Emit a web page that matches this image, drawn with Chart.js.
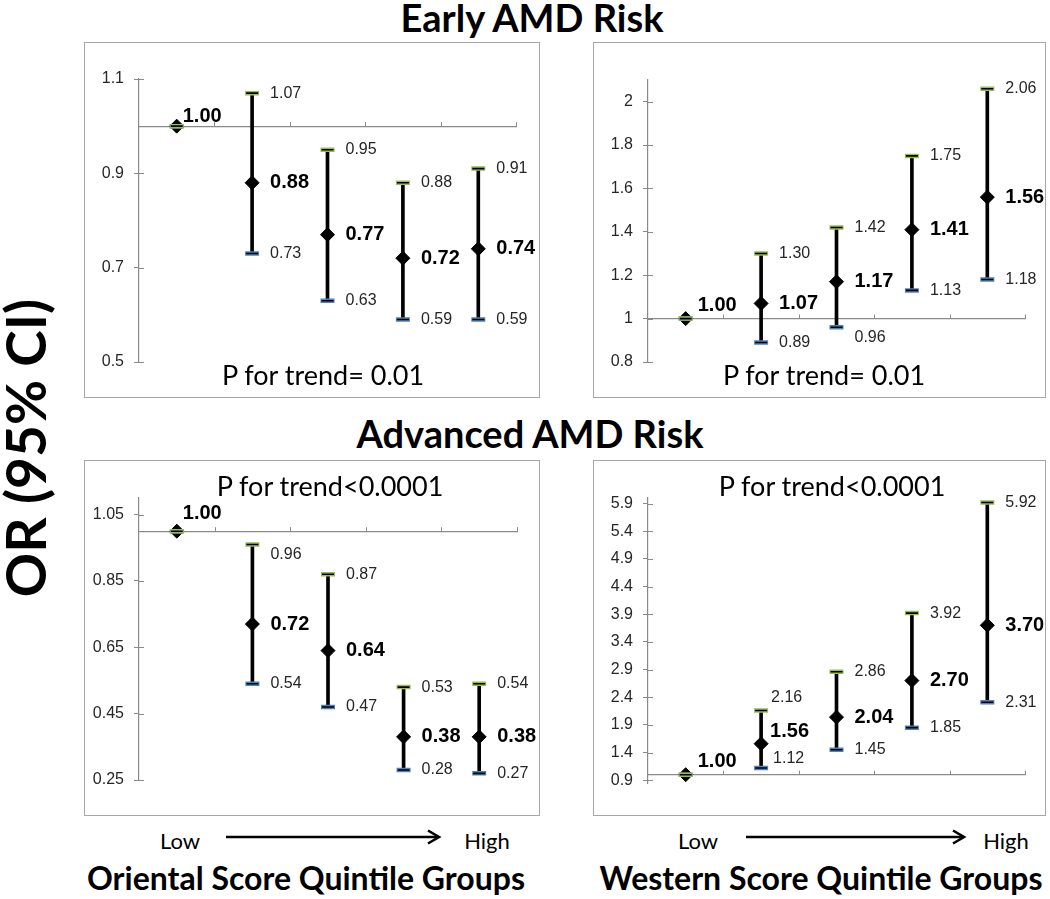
<!DOCTYPE html>
<html>
<head>
<meta charset="utf-8">
<title>AMD risk by dietary pattern score</title>
<script src="https://cdn.jsdelivr.net/npm/chart.js@4.4.1/dist/chart.umd.min.js"></script>
<style>
    html, body { margin: 0; padding: 0; background: #fff; }
    body { width: 1050px; height: 899px; position: relative; overflow: hidden; font-family: Lato, 'Liberation Sans', sans-serif; color: #000; }
    .txt { position: absolute; white-space: nowrap; line-height: 1; transform: translate(-50%, -50%); }
    .title { font-weight: 700; font-size: 38px; }
    .ptrend { font-size: 27px; }
    .lowhigh { font-size: 22px; }
    .group { font-weight: 700; font-size: 32px; }
    .box { position: absolute; border: 1.5px solid #a6a6a6; box-sizing: border-box; }
    canvas { position: absolute; }
</style>
</head>
<body>

<div class="txt title" style="left:532px; top:17px;">Early AMD Risk</div>
<div class="txt title" style="left:530px; top:433px;">Advanced AMD Risk</div>
<div class="txt title" style="left:25px; top:448px; font-size:55px; transform:translate(-50%,-50%) rotate(-90deg);">OR (95% CI)</div>

<div class="box" style="left:84px; top:42px; width:456px; height:356px;"></div>
<div class="box" style="left:593px; top:42px; width:453px; height:356px;"></div>
<div class="box" style="left:84px; top:460px; width:456px; height:356px;"></div>
<div class="box" style="left:593px; top:460px; width:453px; height:356px;"></div>

<canvas id="c1" width="456" height="356" style="left:84px; top:42px;"></canvas>
<canvas id="c2" width="453" height="356" style="left:593px; top:42px;"></canvas>
<canvas id="c3" width="456" height="356" style="left:84px; top:460px;"></canvas>
<canvas id="c4" width="453" height="356" style="left:593px; top:460px;"></canvas>

<div class="txt ptrend" style="left:323px; top:374px;">P for trend= 0.01</div>
<div class="txt ptrend" style="left:824px; top:374px;">P for trend= 0.01</div>
<div class="txt ptrend" style="left:330px; top:485px;">P for trend&lt;0.0001</div>
<div class="txt ptrend" style="left:832px; top:485px;">P for trend&lt;0.0001</div>

<div class="txt lowhigh" style="left:180px; top:841px;">Low</div>
<svg style="position:absolute; left:226px; top:829px;" width="216" height="16">
    <line x1="0" y1="8" x2="212" y2="8" stroke="#000" stroke-width="2.6"/>
    <polyline points="202,1.5 213,8 202,14.5" fill="none" stroke="#000" stroke-width="2.6"/>
</svg>
<div class="txt lowhigh" style="left:487px; top:841px;">High</div>
<div class="txt lowhigh" style="left:698px; top:841px;">Low</div>
<svg style="position:absolute; left:746px; top:829px;" width="221" height="16">
    <line x1="0" y1="8" x2="217" y2="8" stroke="#000" stroke-width="2.6"/>
    <polyline points="207,1.5 218,8 207,14.5" fill="none" stroke="#000" stroke-width="2.6"/>
</svg>
<div class="txt lowhigh" style="left:1006px; top:841px;">High</div>

<div class="txt group" style="left:306px; top:878px;">Oriental Score Quintile Groups</div>
<div class="txt group" style="left:821px; top:878px;">Western Score Quintile Groups</div>

<script>
// Quintile groups (low -> high score)
const categories = ['Q1', 'Q2', 'Q3', 'Q4', 'Q5'];

// Early AMD, Oriental score
const earlyOrientalOR = [1.00, 0.88, 0.77, 0.72, 0.74];
const earlyOrientalLower = [1.00, 0.73, 0.63, 0.59, 0.59];
const earlyOrientalUpper = [1.00, 1.07, 0.95, 0.88, 0.91];
const earlyOrientalTicks = [0.5, 0.7, 0.9, 1.1];

// Early AMD, Western score
const earlyWesternOR = [1.00, 1.07, 1.17, 1.41, 1.56];
const earlyWesternLower = [1.00, 0.89, 0.96, 1.13, 1.18];
const earlyWesternUpper = [1.00, 1.30, 1.42, 1.75, 2.06];
const earlyWesternTicks = [0.8, 1, 1.2, 1.4, 1.6, 1.8, 2];

// Advanced AMD, Oriental score
const advOrientalOR = [1.00, 0.72, 0.64, 0.38, 0.38];
const advOrientalLower = [1.00, 0.54, 0.47, 0.28, 0.27];
const advOrientalUpper = [1.00, 0.96, 0.87, 0.53, 0.54];
const advOrientalTicks = [0.25, 0.45, 0.65, 0.85, 1.05];

// Advanced AMD, Western score
const advWesternOR = [1.00, 1.56, 2.04, 2.70, 3.70];
const advWesternLower = [1.00, 1.12, 1.45, 1.85, 2.31];
const advWesternUpper = [1.00, 2.16, 2.86, 3.92, 5.92];
const advWesternTicks = [0.9, 1.4, 1.9, 2.4, 2.9, 3.4, 3.9, 4.4, 4.9, 5.4, 5.9];

const axisColor = '#8a8a8a';
const upperCapColor = '#9bbb59';
const lowerCapColor = '#4f81bd';

// per panel layout; nudge = label offset [dx, dy] where the default (18, 0) doesn't fit
const panels = [
    { id: 'c1', or: earlyOrientalOR, lo: earlyOrientalLower, hi: earlyOrientalUpper, ticks: earlyOrientalTicks,
      min: 0.5, max: 1.1, pad: { top: 37, right: 24, bottom: 36, left: 0 },
      nudge: { mean: { 0: [6, -10] } } },
    { id: 'c2', or: earlyWesternOR, lo: earlyWesternLower, hi: earlyWesternUpper, ticks: earlyWesternTicks,
      min: 0.8, max: 2.1, pad: { top: 38, right: 21, bottom: 36, left: 0 },
      nudge: { mean: { 0: [12, -13] }, lo: { 2: [18, 10] } } },
    { id: 'c3', or: advOrientalOR, lo: advOrientalLower, hi: advOrientalUpper, ticks: advOrientalTicks,
      min: 0.25, max: 1.1, pad: { top: 38, right: 23, bottom: 36, left: 0 },
      nudge: { mean: { 0: [6, -18] }, hi: { 1: [18, 10] } } },
    { id: 'c4', or: advWesternOR, lo: advWesternLower, hi: advWesternUpper, ticks: advWesternTicks,
      min: 0.85, max: 6.0, pad: { top: 38, right: 21, bottom: 33, left: 0 },
      nudge: { mean: { 0: [12, -13], 1: [9, -12] }, hi: { 1: [10, -13] }, lo: { 1: [12, -9] } } }
];

// writes OR / CI values next to each marker
const makeLabelPlugin = (p) => ({
    id: 'valueLabels',
    afterDatasetsDraw(chart) {
        const ctx = chart.ctx;
        const xs = chart.scales.x;
        const ys = chart.scales.y;
        ctx.save();
        ctx.textAlign = 'left';
        ctx.textBaseline = 'middle';
        categories.forEach((c, i) => {
            const x = xs.getPixelForValue(i);
            const put = (kind, val, bold) => {
                const n = (p.nudge[kind] && p.nudge[kind][i]) || [18, 0];
                ctx.font = bold ? 'bold 20px "Liberation Sans", Arial' : '16px "Liberation Sans", Arial';
                ctx.fillStyle = bold ? '#000' : '#262626';
                ctx.fillText(val.toFixed(2), x + n[0], ys.getPixelForValue(val) + n[1]);
            };
            put('mean', p.or[i], true);
            if (i > 0) {
                put('hi', p.hi[i], false);
                put('lo', p.lo[i], false);
            }
        });
        ctx.restore();
    }
});

// Excel-style tick marks that cross the axis line (inner half)
const crossTicks = {
    id: 'crossTicks',
    afterDraw(chart) {
        const ctx = chart.ctx;
        const xs = chart.scales.x;
        const ys = chart.scales.y;
        const axisY = ys.getPixelForValue(1);
        ctx.save();
        ctx.strokeStyle = axisColor;
        ctx.lineWidth = 1;
        ys.ticks.forEach(t => {
            const y = Math.round(ys.getPixelForValue(t.value)) + 0.5;
            ctx.beginPath();
            ctx.moveTo(ys.right, y);
            ctx.lineTo(ys.right + 5, y);
            ctx.stroke();
        });
        for (let i = 1; i <= categories.length; i++) {
            const x = Math.round(xs.getPixelForValue(i - 0.5)) + 0.5;
            ctx.beginPath();
            ctx.moveTo(x, axisY);
            ctx.lineTo(x, axisY - 4);
            ctx.stroke();
        }
        ctx.restore();
    }
};

const capDataset = (data, color, radius, width, order) => ({
    type: 'line',
    data: data,
    showLine: false,
    pointStyle: 'line',
    pointRadius: radius,
    pointBorderWidth: width,
    pointBorderColor: color,
    order: order
});

panels.forEach(p => {
    new Chart(document.getElementById(p.id), {
        type: 'bar',
        data: {
            labels: categories,
            datasets: [
                capDataset(p.hi, '#000', 6, 1.6, 1),
                capDataset(p.hi, upperCapColor, 7, 4.5, 2),
                capDataset(p.lo, '#000', 6, 1.6, 3),
                capDataset(p.lo, lowerCapColor, 7, 4.5, 4),
                {
                    type: 'line',
                    data: p.or,
                    showLine: false,
                    pointStyle: 'rectRot',
                    pointRadius: 7,
                    pointBackgroundColor: '#000',
                    pointBorderColor: '#000',
                    pointBorderWidth: 1,
                    order: 5
                },
                {
                    type: 'bar',
                    data: p.lo.map((v, i) => [v, p.hi[i]]),
                    backgroundColor: '#000',
                    barThickness: 3,
                    order: 6
                }
            ]
        },
        options: {
            responsive: false,
            animation: false,
            events: [],
            layout: { padding: p.pad },
            plugins: { legend: { display: false }, tooltip: { enabled: false } },
            scales: {
                x: {
                    position: { y: 1 },
                    offset: true,
                    grid: { drawOnChartArea: false, drawTicks: false, offset: true },
                    border: { color: axisColor, width: 1.2 },
                    ticks: { display: false }
                },
                y: {
                    min: p.min,
                    max: p.max,
                    afterBuildTicks: s => { s.ticks = p.ticks.map(v => ({ value: v })); },
                    afterFit: s => { s.width = 55; },
                    grid: { drawOnChartArea: false, tickLength: 5, color: axisColor },
                    border: { color: axisColor, width: 1.2 },
                    ticks: {
                        padding: 10,
                        color: '#262626',
                        font: { family: '"Liberation Sans", Arial', size: 16 },
                        callback: v => String(v)
                    }
                }
            }
        },
        plugins: [makeLabelPlugin(p), crossTicks]
    });
});
</script>
</body>
</html>
